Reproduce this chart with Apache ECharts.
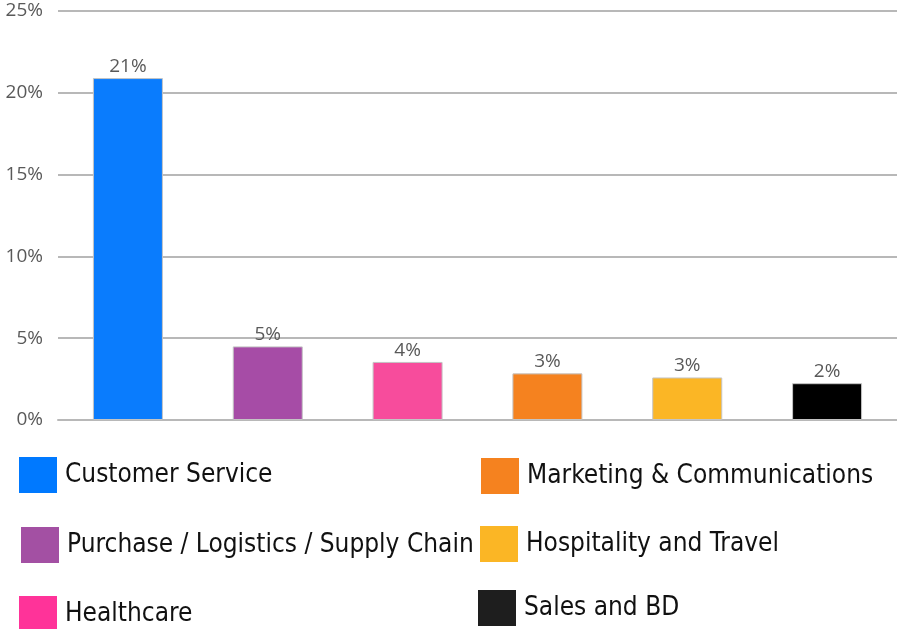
<!DOCTYPE html>
<html>
<head>
<meta charset="utf-8">
<script src="https://cdn.jsdelivr.net/npm/echarts@6/dist/echarts.min.js"></script>
<style>
  html, body { margin: 0; padding: 0; background: #fff; }
  #chart { width: 897px; height: 629px; }
</style>
</head>
<body>
<div id="chart"></div>
<script>
const categories = [
    'Customer Service',
    'Purchase / Logistics / Supply Chain',
    'Healthcare',
    'Marketing & Communications',
    'Hospitality and Travel',
    'Sales and BD',
];
const values = [20.9, 4.5, 3.55, 2.85, 2.6, 2.25];
const colors = ['#0a7cfd', '#a64ca6', '#f74c9c', '#f5821f', '#fbb625', '#000000'];
const legendColors = ['#0079ff', '#a350a3', '#ff3399', '#f5821f', '#fbb625', '#1e1e1e'];
const yTicks = [0, 5, 10, 15, 20, 25];

// legend boxes are placed one by one, like the picture (lift = text raised above box centre)
const legendPos = [
    { left: 19, top: 457, lift: 3 },
    { left: 21, top: 527, lift: 2 },
    { left: 19, top: 596, lift: 0 },
    { left: 481, top: 458, lift: 5 },
    { left: 480, top: 526, lift: 3 },
    { left: 478, top: 590, lift: 4 },
];

let chart = echarts.init(document.getElementById('chart'));

let series = categories.map((name, i) => {
    return {
        name: name,
        type: 'bar',
        stack: 'all',
        barWidth: 70,
        data: categories.map((c, j) => (j === i ? values[i] : null)),
        itemStyle: {
            color: colors[i],
            borderColor: '#c4c4c4',
            borderWidth: 1,
        },
        label: {
            show: true,
            position: 'top',
            distance: 2,
            color: '#595959',
            fontSize: 19,
            fontFamily: 'Open Sans',
            formatter: (p) => Math.round(p.value) + '%',
        },
    };
});

let legends = categories.map((name, i) => {
    let pos = legendPos[i];
    return {
        left: pos.left,
        top: pos.top,
        data: [{ name: name, itemStyle: { color: legendColors[i], borderWidth: 0 } }],
        icon: 'rect',
        itemWidth: 38,
        itemHeight: 36,
        padding: 0,
        selectedMode: false,
        itemStyle: { borderWidth: 0 },
        textStyle: {
            color: '#111',
            fontSize: 26,
            fontFamily: '"DejaVu Sans Condensed", "DejaVu Sans"',
            padding: [0, 0, pos.lift * 2, 3],
        },
    };
});

let option = {
    animation: false,
    grid: {
        left: 58,
        right: 0,
        top: 11,
        bottom: 209,
    },
    xAxis: {
        type: 'category',
        data: categories,
        axisLine: { show: true, lineStyle: { color: '#b8b8b8', width: 2 } },
        axisTick: { show: false },
        axisLabel: { show: false },
    },
    yAxis: {
        type: 'value',
        min: yTicks[0],
        max: yTicks[yTicks.length - 1],
        interval: 5,
        axisLine: { show: false },
        axisTick: { show: false },
        axisLabel: {
            margin: 15,
            color: '#595959',
            fontSize: 19,
            fontFamily: 'Open Sans',
            formatter: '{value}%',
        },
        splitLine: { lineStyle: { color: '#b8b8b8', width: 2 } },
    },
    legend: legends,
    series: series,
};

chart.setOption(option);
</script>
</body>
</html>
